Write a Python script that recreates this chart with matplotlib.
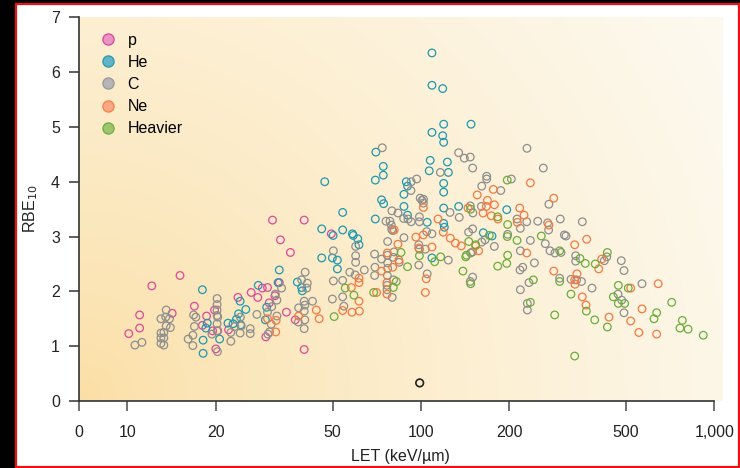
import numpy as np
import matplotlib
matplotlib.use("Agg")
import matplotlib.pyplot as plt
from matplotlib.lines import Line2D
from matplotlib.patches import Rectangle

plt.rcParams['font.family'] = ['Liberation Sans', 'DejaVu Sans']

# ---- data (LET in keV/um, RBE10) ----
p_let = [31.2, 33.2, 35.9, 15.1, 12.1, 11.0, 11.0, 10.1, 14.2, 16.9, 18.6, 18.0,
         19.8, 20.0, 23.8, 26.4, 27.8, 28.8, 30.0, 31.8, 32.9, 30.4, 34.8, 29.6,
         22.1, 20.3, 19.5, 40.0, 49.5, 37.3, 40.0]
p_rbe = [3.30, 2.94, 2.71, 2.29, 2.10, 1.57, 1.33, 1.23, 1.60, 1.73, 1.55, 1.38,
         1.66, 0.95, 1.89, 1.98, 1.89, 2.06, 2.07, 1.92, 2.16, 1.79, 1.62, 1.17,
         1.30, 1.28, 1.28, 3.30, 3.05, 1.48, 0.94]

he_let = [32.9, 32.6, 18.0, 27.9, 24.2, 25.3, 23.9, 29.8, 29.5, 22.0, 23.5, 18.7,
          18.5, 24.3, 22.9, 20.6, 18.1, 18.1, 54.1, 69.9, 87.5, 90.0, 45.9, 50.2,
          54.1, 58.4, 58.8, 60.9, 61.5, 45.9, 49.9, 51.9, 51.9, 37.9, 39.2, 39.4,
          105.0, 119.5, 119.5, 120.1, 134.4, 163.1, 174.6, 109.0, 73.4, 74.6, 196.0,
          109.0, 109.0, 118.6, 119.5, 148.1, 109.0, 118.6, 119.5, 70.2, 107.5, 123.0,
          106.7, 124.0, 74.4, 74.4, 69.9, 47.0, 89.1, 90.0, 87.5, 119.5, 119.5]
he_rbe = [2.39, 2.16, 2.03, 2.11, 1.82, 1.67, 1.59, 1.71, 1.48, 1.42, 1.49, 1.42,
          1.33, 1.39, 1.41, 1.13, 1.11, 0.87, 3.44, 3.32, 3.55, 3.39, 3.14, 3.02,
          3.12, 3.05, 3.02, 2.96, 2.85, 2.61, 2.61, 2.57, 2.41, 2.17, 2.07, 2.01,
          3.26, 3.52, 3.24, 3.17, 3.55, 3.07, 3.01, 2.61, 3.67, 3.60, 3.49,
          6.35, 5.76, 5.70, 5.05, 5.05, 4.90, 4.84, 4.72, 4.54, 4.39, 4.36,
          4.20, 4.17, 4.28, 4.12, 4.03, 4.00, 4.00, 3.92, 3.77, 3.97, 3.81]

c_let = [13.55, 13.0, 13.5, 13.9, 13.55, 14.0, 13.0, 13.3, 13.0, 13.3, 13.0, 13.3,
         10.6, 11.2, 16.8, 17.1, 16.9, 16.7, 16.1, 16.7, 20.2, 20.2, 20.2, 20.2,
         20.3, 20.2, 20.2, 19.4, 20.25, 22.5, 22.5, 24.2, 24.25, 24.4, 26.2, 26.2,
         27.6, 30.0, 31.0, 32.3, 31.9, 33.5, 32.3, 30.9, 30.5, 30.1, 23.2,
         40.3, 39.2, 41.0, 40.8, 40.0, 40.2, 38.3, 40.0, 42.7, 40.2, 40.0, 38.2,
         50.3, 50.3, 49.9, 54.1, 54.1, 54.6, 57.2, 59.9, 59.9, 59.9, 59.7, 64.1,
         79.6, 83.5, 87.3, 90.3, 92.6, 98.8, 98.8, 76.0, 78.4, 79.2, 79.5, 80.1,
         77.0, 87.5, 69.5, 73.4, 76.8, 80.9, 77.0, 77.0, 69.7, 69.5, 76.8, 80.5,
         84.3, 80.7, 76.6, 76.6, 79.8, 98.3, 98.8, 103.5, 104.6, 109.0, 98.3, 105.0,
         125.6, 135.0, 147.2, 150.3, 160.6, 145.3, 150.0, 123.9, 147.6, 150.0, 150.0,
         147.2, 161.1, 165.3, 177.8, 101.9, 100.8,
         272.8, 212.5, 229.3, 250.0, 270.2, 298.3, 354.6, 218.1, 272.2, 197.4, 235.9,
         265.2, 308.0, 312.0, 218.1, 275.2, 286.0, 300.0, 336.6, 336.6, 243.5, 222.2,
         217.5, 421.5, 429.7, 481.4, 491.7, 296.9, 324.4, 339.2, 352.4, 382.6, 233.3,
         218.1, 230.4, 230.4, 469.3, 483.0, 491.7, 566.4,
         73.8, 134.4, 140.5, 147.2, 150.0, 116.4, 92.6, 96.7, 92.4, 99.4, 102.0,
         167.5, 167.5, 161.1, 187.0, 229.7, 261.1, 203.2]
c_rbe = [1.66, 1.50, 1.53, 1.50, 1.37, 1.34, 1.24, 1.25, 1.15, 1.15, 1.05, 1.02,
         1.02, 1.07, 1.57, 1.53, 1.36, 1.20, 1.13, 1.01, 1.87, 1.76, 1.66, 1.56,
         1.53, 1.41, 1.28, 1.22, 0.90, 1.25, 1.09, 1.24, 1.53, 1.37, 1.32, 1.23,
         1.58, 1.62, 1.72, 1.84, 1.95, 2.06, 1.55, 1.40, 1.26, 1.22, 1.36,
         2.35, 2.21, 2.15, 2.06, 1.82, 1.75, 1.70, 1.64, 1.82, 1.48, 1.32, 1.44,
         2.74, 2.19, 1.86, 2.20, 1.90, 1.73, 2.35, 2.65, 2.53, 2.82, 2.30, 2.39,
         3.47, 3.43, 3.33, 3.32, 3.27, 3.36, 3.27, 3.28, 3.28, 3.21, 3.13, 3.11,
         2.91, 2.98, 2.68, 2.59, 2.66, 2.72, 2.52, 2.42, 2.44, 2.29, 2.29, 2.62,
         2.53, 2.21, 2.11, 2.03, 1.89, 2.85, 2.77, 2.77, 3.09, 3.05, 2.48, 2.32,
         3.44, 3.35, 3.56, 3.43, 3.55, 3.08, 3.14, 2.57, 2.70, 2.72, 2.26,
         2.18, 2.90, 2.94, 2.82, 3.61, 3.66,
         3.59, 3.32, 3.27, 3.28, 3.25, 3.32, 3.27, 3.15, 3.12, 3.04, 2.93,
         2.87, 3.03, 3.01, 2.74, 2.74, 2.70, 2.71, 2.65, 2.55, 2.52, 2.44,
         2.39, 2.56, 2.63, 2.56, 2.38, 2.24, 2.22, 2.21, 2.18, 2.06, 2.16,
         2.03, 1.78, 1.66, 1.95, 1.84, 1.61, 2.14,
         4.62, 4.53, 4.43, 4.45, 4.25, 4.17, 4.00, 4.05, 3.84, 3.70, 3.68,
         4.10, 4.05, 3.92, 3.84, 4.61, 4.25, 4.05]

ne_let = [30.0, 32.1, 32.0, 101.9, 81.1, 96.1, 101.9, 83.5, 98.3, 109.0, 76.8, 84.1,
          80.1, 73.4, 61.5, 61.5, 57.9, 61.5, 58.2, 61.7, 54.1, 44.0, 45.0, 38.3,
          70.6, 76.6, 76.6, 104.2, 103.5, 114.3, 119.1, 125.9, 131.0, 137.2, 144.6,
          162.7, 177.9, 173.6, 182.9, 153.6, 157.2, 167.0,
          217.0, 224.5, 213.0, 272.8, 367.0, 334.0, 229.3, 412.9, 403.3, 283.4, 340.0,
          334.0, 334.8, 354.6, 365.0, 518.3, 643.0, 566.4, 437.2, 518.3, 552.6, 635.3,
          155.5, 176.4, 168.4, 235.9, 283.4]
ne_rbe = [1.50, 1.47, 1.26, 3.53, 3.12, 2.99, 3.03, 2.86, 2.79, 2.81, 2.70, 2.57,
          2.44, 2.37, 2.24, 2.16, 2.07, 1.82, 1.62, 1.64, 1.65, 1.66, 1.50, 1.55,
          1.98, 2.16, 1.95, 2.23, 1.98, 3.32, 3.08, 2.97, 2.88, 2.83, 3.52,
          3.43, 3.58, 3.38, 3.32, 2.83, 2.74, 3.55,
          3.52, 3.39, 3.26, 3.21, 2.95, 2.85, 2.70, 2.59, 2.41, 2.37, 2.32,
          2.21, 2.13, 1.90, 1.75, 2.06, 2.14, 1.68, 1.53, 1.46, 1.25, 1.22,
          3.76, 3.86, 3.66, 3.98, 3.70]

hv_let = [85.5, 98.8, 90.0, 82.4, 80.5, 69.0, 59.1, 55.2, 50.6, 111.3, 116.7, 139.0,
          147.7, 142.1, 142.9, 145.5, 153.6, 170.9, 147.7, 182.6, 182.6,
          197.4, 196.8, 212.5, 257.0, 197.4, 196.0, 296.9, 348.2, 363.0, 392.6, 431.6,
          241.5, 296.9, 324.4, 235.9, 285.5, 366.0, 390.8, 431.6, 470.4, 508.6, 452.3,
          470.4, 494.4, 715.0, 635.3, 622.2, 777.0, 762.9, 813.0, 915.9, 334.0, 196.8]
hv_rbe = [2.71, 2.65, 2.45, 2.18, 2.07, 1.98, 1.93, 2.06, 1.54, 2.54, 2.63, 2.37,
          2.14, 2.63, 2.66, 2.91, 2.85, 3.02, 3.50, 3.36, 2.46,
          3.22, 3.00, 2.93, 3.01, 2.66, 2.51, 2.74, 2.60, 2.51, 2.50, 2.71,
          2.21, 2.18, 1.95, 1.80, 1.57, 1.64, 1.48, 1.35, 2.11, 2.06, 1.90,
          1.78, 1.78, 1.80, 1.61, 1.50, 1.47, 1.33, 1.31, 1.20, 0.82, 4.03]

ref_let = [99.0]
ref_rbe = [0.33]

series = [
    ("p", p_let, p_rbe, "#e0479c", "#ea93c6", "#d9509f"),
    ("He", he_let, he_rbe, "#1f98b0", "#62b5c7", "#2b9cb2"),
    ("C", c_let, c_rbe, "#8e8e8e", "#b6b6b6", "#9c9c9c"),
    ("Ne", ne_let, ne_rbe, "#f5783f", "#f8a882", "#f3854f"),
    ("Heavier", hv_let, hv_rbe, "#6aad3a", "#9cc56e", "#74b046"),
]

xticks = [10, 20, 50, 100, 200, 500, 1000]
xticklabels = ["10", "20", "50", "100", "200", "500", "1,000"]
xmin, xmax = 6.82, 1061

fig = plt.figure(figsize=(7.4, 4.68), dpi=100)
ax = fig.add_axes([78.7 / 740, 1 - 401 / 468, (722 - 78.7) / 740, (401 - 17.3) / 468])
ax.set_xscale("log")

# warm radial background from the lower-left corner
ny, nx = 200, 320
yy, xx = np.mgrid[0:1:ny * 1j, 0:1:nx * 1j]
r = np.clip(np.sqrt((xx * 644) ** 2 + (yy * 384) ** 2) / 720, 0, 1)
c0 = np.array([251, 222, 163]) / 255
c1 = np.array([253, 249, 238]) / 255
t = r ** 0.75
img = c0 + (c1 - c0) * t[..., None]
ax.imshow(img, extent=[0, 1, 0, 1], transform=ax.transAxes, origin="lower",
          aspect="auto", zorder=0, interpolation="bilinear")

for name, xs, ys, ec, fc, lec in series:
    ax.scatter(xs, ys, s=30, facecolors="none", edgecolors=ec, linewidths=0.9, zorder=3)
ax.scatter(ref_let, ref_rbe, s=30, facecolors="none", edgecolors="#222222",
           linewidths=1.2, zorder=3)

ax.set_xlim(xmin, xmax)
ax.set_ylim(0, 7)
ax.set_xticks([xmin] + xticks)
ax.set_xticklabels(["0"] + xticklabels)
ax.xaxis.set_minor_locator(matplotlib.ticker.NullLocator())
ax.set_yticks(range(8))

for s in ["top", "right"]:
    ax.spines[s].set_visible(False)
for s in ["left", "bottom"]:
    ax.spines[s].set_color("#333333")
    ax.spines[s].set_linewidth(1.2)
ax.spines["bottom"].set_bounds(xmin, 1000)
ax.tick_params(axis="y", length=7.5, width=1.1, color="#333333", pad=6,
               labelsize=11.5, labelcolor="#222222")
ax.tick_params(axis="x", length=7, width=1.3, color="#666666", pad=10,
               labelsize=11.5, labelcolor="#222222")

ax.set_xlabel("LET (keV/\u00b5m)", fontsize=11.5, color="#222222", labelpad=7)
ax.set_ylabel("RBE$_{10}$", fontsize=11.5, color="#222222", labelpad=8)

handles = [Line2D([], [], marker="o", linestyle="none", markersize=8,
                  markerfacecolor=fc, markeredgecolor=lec, markeredgewidth=1.0)
           for name, xs, ys, ec, fc, lec in series]
ax.legend(handles, [s[0] for s in series], loc="upper left", frameon=False,
          fontsize=11.5, handlelength=1.0, handletextpad=0.7, labelspacing=0.45,
          bbox_to_anchor=(0.019, 0.985), borderaxespad=0.2)

# screenshot frame
fig.patches.append(Rectangle((0, 0), 16 / 740, 1, transform=fig.transFigure,
                             facecolor="black", edgecolor="none", zorder=-1))
fig.patches.append(Rectangle((0, 1 - 3 / 468), 1, 3 / 468, transform=fig.transFigure,
                             facecolor="black", edgecolor="none", zorder=-1))
fig.patches.append(Rectangle((16 / 740, 1 / 468), 1 - 17.5 / 740, 1 - 5 / 468,
                             transform=fig.transFigure, fill=False,
                             edgecolor="#ee1111", linewidth=1.6, zorder=-1))

fig.savefig("out.png", dpi=100)
